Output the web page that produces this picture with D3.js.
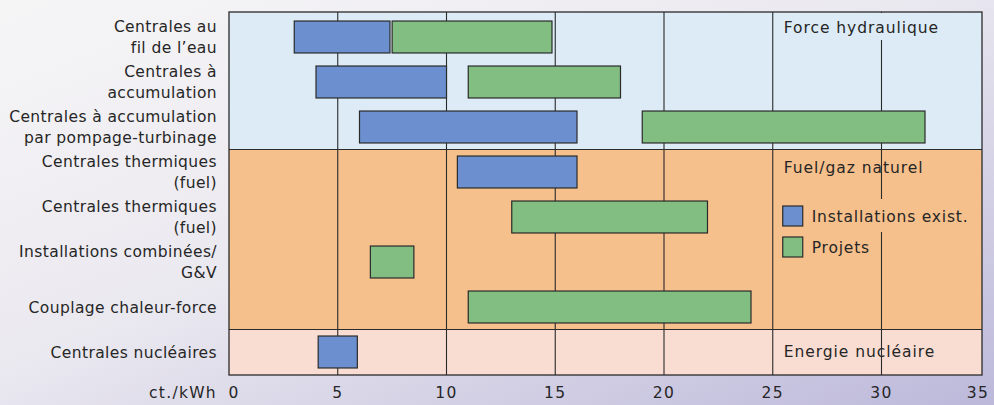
<!DOCTYPE html>
<html>
<head>
<meta charset="utf-8">
<script src="https://cdn.jsdelivr.net/npm/d3@7"></script>
<style>
  html, body { margin: 0; padding: 0; }
  svg { display: block; }
</style>
</head>
<body>
<svg id="chart" width="994" height="405"></svg>
<script>
// Production cost ranges (ct./kWh) by type of power plant
const rows = [
  ["Centrales au", "fil de l\u2019eau"],
  ["Centrales \u00e0", "accumulation"],
  ["Centrales \u00e0 accumulation", "par pompage-turbinage"],
  ["Centrales thermiques", "(fuel)"],
  ["Centrales thermiques", "(fuel)"],
  ["Installations combin\u00e9es/", "G&V"],
  ["Couplage chaleur-force"],
  ["Centrales nucl\u00e9aires"]
];
// [row index, from, to]
const existing = [
  [0, 3.0, 7.4],
  [1, 4.0, 10.0],
  [2, 6.0, 16.0],
  [3, 10.5, 16.0],
  [7, 4.1, 5.9]
];
const projects = [
  [0, 7.5, 14.85],
  [1, 11.0, 18.0],
  [2, 19.0, 32.0],
  [4, 13.0, 22.0],
  [5, 6.5, 8.5],
  [6, 11.0, 24.0]
];
// energy source groups: [first row, last row, label]
const groups = [
  [0, 2, "Force hydraulique"],
  [3, 6, "Fuel/gaz naturel"],
  [7, 7, "Energie nucl\u00e9aire"]
];
const xTicks = [0, 5, 10, 15, 20, 25, 30, 35];
const unitLabel = "ct./kWh";
const legendItems = ["Installations exist.", "Projets"];

const groupFill = ["#dcebf5", "#f6c08c", "#f9ddd3"];
const colExisting = "#6b8fcf";
const colProject = "#82bd82";
const stroke = "#2a2a2a";
const ink = "#262626";
const font = "DejaVu Sans, sans-serif";

const svg = d3.select("#chart");
const W = 994, H = 405;
const plot = { left: 229, right: 982, top: 12, bottom: 375 };

// page background
const defs = svg.append("defs");
const grad = defs.append("linearGradient").attr("id", "bg")
  .attr("x1", "0").attr("y1", "0").attr("x2", "1").attr("y2", "1");
grad.append("stop").attr("offset", "0").attr("stop-color", "#f6f5f6");
grad.append("stop").attr("offset", "0.45").attr("stop-color", "#ebe9f0");
grad.append("stop").attr("offset", "1").attr("stop-color", "#bcb8da");
svg.append("rect").attr("width", W).attr("height", H).attr("fill", "url(#bg)");

const x = d3.scaleLinear().domain([0, 35]).range([plot.left, plot.left + 35 * 21.75]);
const y = d3.scaleBand().domain(d3.range(rows.length))
  .range([14.5, 374.5]).paddingInner(0.29).paddingOuter(0.145);
const step = y.step();
const rowCenter = i => y(i) + y.bandwidth() / 2;
const bandTop = i => i === 0 ? plot.top : rowCenter(i) - step / 2;
const bandBottom = i => i === rows.length - 1 ? plot.bottom : rowCenter(i) + step / 2;

// group bands
svg.append("g").selectAll("rect").data(groups).join("rect")
  .attr("x", plot.left).attr("width", plot.right - plot.left)
  .attr("y", d => bandTop(d[0]))
  .attr("height", d => bandBottom(d[1]) - bandTop(d[0]))
  .attr("fill", (d, i) => groupFill[i]);

// vertical grid lines
svg.append("g").selectAll("line").data(xTicks.filter(t => t > 0 && x(t) < plot.right)).join("line")
  .attr("x1", d => x(d)).attr("x2", d => x(d))
  .attr("y1", plot.top).attr("y2", plot.bottom)
  .attr("stroke", stroke).attr("stroke-width", 1.1);

// group separators
svg.append("g").selectAll("line").data(groups.slice(1)).join("line")
  .attr("x1", plot.left).attr("x2", plot.right)
  .attr("y1", d => bandTop(d[0])).attr("y2", d => bandTop(d[0]))
  .attr("stroke", stroke).attr("stroke-width", 1.1);

// group labels
const gx = x(25) + 11;
svg.append("rect").attr("x", gx - 2).attr("y", plot.top + 1)
  .attr("width", 170).attr("height", 27).attr("fill", groupFill[0]);
svg.append("g").selectAll("text").data(groups).join("text")
  .attr("x", gx)
  .attr("y", (d, i) => i === 0 ? bandTop(d[0]) + 21 : i === 1 ? bandTop(d[0]) + 23 : rowCenter(d[0]) + 5)
  .attr("font-family", font).attr("font-size", 15.5).attr("letter-spacing", 0.95).attr("fill", ink)
  .text(d => d[2]);

// bars
function drawBars(data, fill) {
  svg.append("g").selectAll("rect").data(data).join("rect")
    .attr("x", d => x(d[1])).attr("width", d => x(d[2]) - x(d[1]))
    .attr("y", d => y(d[0])).attr("height", y.bandwidth())
    .attr("fill", fill).attr("stroke", stroke).attr("stroke-width", 1.2);
}
drawBars(existing, colExisting);
drawBars(projects, colProject);

// legend
const lg = svg.append("g").attr("transform", `translate(${gx - 1},206)`);
lg.append("rect").attr("x", 22).attr("y", -7).attr("width", 165).attr("height", 33).attr("fill", groupFill[1]);
legendItems.forEach((t, i) => {
  lg.append("rect").attr("x", 0).attr("y", i * 31).attr("width", 20).attr("height", 20)
    .attr("fill", i === 0 ? colExisting : colProject).attr("stroke", stroke).attr("stroke-width", 1.2);
  lg.append("text").attr("x", 29).attr("y", i * 31 + 16)
    .attr("font-family", font).attr("font-size", 15.5).attr("letter-spacing", 0.8)
    .attr("fill", ink).text(t);
});

// plot frame
svg.append("rect").attr("x", plot.left).attr("y", plot.top)
  .attr("width", plot.right - plot.left).attr("height", plot.bottom - plot.top)
  .attr("fill", "none").attr("stroke", stroke).attr("stroke-width", 1.3);

// category labels
const lab = svg.append("g").attr("font-family", font).attr("font-size", 15.5)
  .attr("letter-spacing", 0.4).attr("fill", ink).attr("text-anchor", "end");
rows.forEach((lines, i) => {
  const c = rowCenter(i);
  const lh = 20.5;
  lines.forEach((t, j) => {
    lab.append("text").attr("x", 217)
      .attr("y", c + 5.5 + (j - (lines.length - 1) / 2) * lh).text(t);
  });
});

// x axis labels
const ax = svg.append("g").attr("font-family", font).attr("font-size", 15.5)
  .attr("letter-spacing", 1.3).attr("fill", ink);
ax.selectAll("text").data(xTicks).join("text")
  .attr("x", d => d === 0 ? x(d) + 5 : Math.min(x(d), plot.right - 4))
  .attr("y", 398)
  .attr("text-anchor", "middle")
  .text(d => d);
ax.append("text").attr("x", 217).attr("y", 398).attr("text-anchor", "end").text(unitLabel);
</script>
</body>
</html>
